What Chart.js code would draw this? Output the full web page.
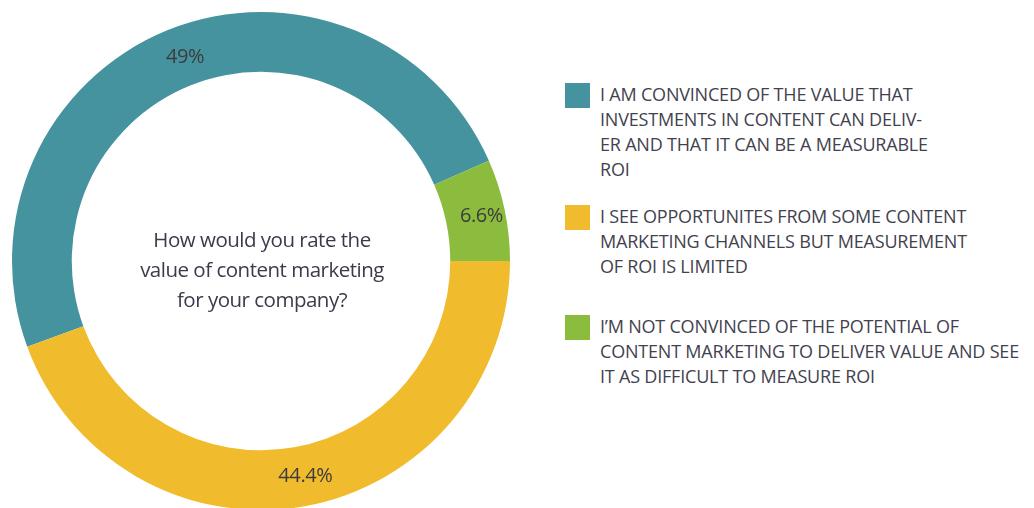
<!DOCTYPE html>
<html>
<head>
<meta charset="utf-8">
<script src="https://cdn.jsdelivr.net/npm/chart.js@4/dist/chart.umd.min.js"></script>
<style>
  html, body { margin: 0; padding: 0; background: #fff; }
  body { width: 1034px; height: 508px; overflow: hidden; position: relative; font-family: "Open Sans", sans-serif; }
  #chartBox { position: absolute; left: 12px; top: 12px; width: 498px; height: 498px; }
  #legend { position: absolute; left: 565px; top: 82px; }
  .item { position: relative; padding-left: 35px; color: #42424e; font-size: 18px; line-height: 25px; letter-spacing: -0.2px; font-weight: 500; white-space: nowrap; }
  .item .box { position: absolute; left: 0; top: 1px; width: 25px; height: 25px; }
</style>
</head>
<body>
<div id="chartBox"><canvas id="doughnutChart"></canvas></div>
<div id="legend"></div>
<script>
// answers, as printed in the legend (line breaks kept from the original)
const labels = [
    ['I AM CONVINCED OF THE VALUE THAT', 'INVESTMENTS IN CONTENT CAN DELIV-', 'ER AND THAT IT CAN BE A MEASURABLE', 'ROI'],
    ["I\u2019M NOT CONVINCED OF THE POTENTIAL OF", 'CONTENT MARKETING TO DELIVER VALUE AND SEE', 'IT AS DIFFICULT TO MEASURE ROI'],
    ['I SEE OPPORTUNITES FROM SOME CONTENT', 'MARKETING CHANNELS BUT MEASUREMENT', 'OF ROI IS LIMITED']
];
const values = [49, 6.6, 44.4];
const colors = ['#4693a0', '#8bbc3e', '#f0bc2e'];
const legendOrder = [0, 2, 1];
const centerText = ['How would you rate the', 'value of content marketing', 'for your company?'];

// green slice ends at 3 o'clock
const rotation = 90 - (values[0] + values[1]) / 100 * 360;

const sliceLabels = {
    id: 'sliceLabels',
    afterDatasetsDraw(chart) {
        const ctx = chart.ctx;
        const meta = chart.getDatasetMeta(0);
        ctx.save();
        ctx.font = '500 20px "Open Sans", sans-serif';
        ctx.letterSpacing = '-0.4px';
        ctx.fillStyle = '#3c3c3c';
        ctx.textAlign = 'center';
        ctx.textBaseline = 'middle';
        meta.data.forEach((arc, i) => {
            const p = arc.tooltipPosition();
            ctx.fillText(values[i] + '%', p.x + 6, p.y);
        });
        // question in the middle
        const c = meta.data[0];
        ctx.font = '500 20.5px "Open Sans", sans-serif';
        ctx.letterSpacing = '-0.5px';
        ctx.fillStyle = '#3b3b4c';
        centerText.forEach((line, i) => {
            ctx.fillText(line, c.x + 1, c.y + 10 + (i - 1) * 30);
        });
        ctx.restore();
    }
};

const ctx = document.getElementById('doughnutChart').getContext('2d');
const doughnutChart = new Chart(ctx, {
    type: 'doughnut',
    data: {
        labels: labels,
        datasets: [{
            data: values,
            backgroundColor: colors,
            borderWidth: 0
        }]
    },
    options: {
        responsive: true,
        maintainAspectRatio: false,
        animation: false,
        cutout: '76%',
        rotation: rotation,
        layout: { padding: 0 },
        plugins: {
            legend: { display: false },
            tooltip: { enabled: false }
        }
    },
    plugins: [sliceLabels]
});

// html legend, built from the same arrays
const legend = document.getElementById('legend');
const gaps = [0, 22, 35];
legendOrder.forEach((idx, n) => {
    const div = document.createElement('div');
    div.className = 'item';
    div.style.marginTop = gaps[n] + 'px';
    const box = document.createElement('span');
    box.className = 'box';
    box.style.background = colors[idx];
    div.appendChild(box);
    labels[idx].forEach(line => {
        const l = document.createElement('div');
        l.textContent = line;
        div.appendChild(l);
    });
    legend.appendChild(div);
});
</script>
</body>
</html>
